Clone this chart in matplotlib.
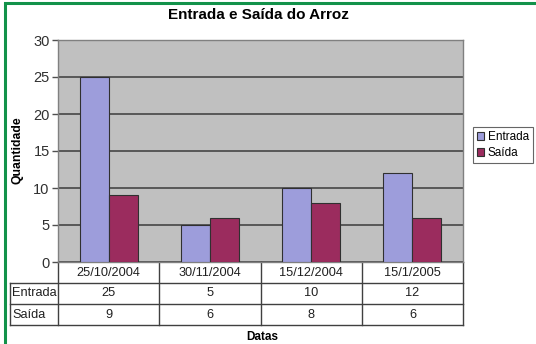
import matplotlib.pyplot as plt
from matplotlib.patches import Rectangle
import numpy as np

plt.rcParams['font.family'] = ['Liberation Sans', 'DejaVu Sans']

# Rice stock movements per date
datas = ['25/10/2004', '30/11/2004', '15/12/2004', '15/1/2005']
entrada = [25, 5, 10, 12]
saida = [9, 6, 8, 6]
series_nomes = ['Entrada', 'Saída']

cor_entrada = '#9d9ddb'
cor_saida = '#9b2c5e'
grade = '#505050'

fig = plt.figure(figsize=(5.36, 3.44), dpi=100)
fig.patch.set_facecolor('white')

# green frame around the whole chart
fig.patches.append(Rectangle((5 / 536, -0.05), 1.2, 1 - 3 / 344 + 0.05,
                             transform=fig.transFigure, fill=False,
                             edgecolor='#12924a', linewidth=2.2))

ax = fig.add_axes([58 / 536, 1 - 262 / 344, 405 / 536, 222 / 344])
ax.set_facecolor('#c0c0c0')

x = np.arange(len(datas))
w = 0.287
ax.bar(x - w / 2, entrada, w, color=cor_entrada, edgecolor='#303030',
       linewidth=0.8, label=series_nomes[0], zorder=3)
ax.bar(x + w / 2, saida, w, color=cor_saida, edgecolor='#303030',
       linewidth=0.8, label=series_nomes[1], zorder=3)

ax.set_xlim(-0.5, len(datas) - 0.5)
ax.set_ylim(0, 30)
ax.set_yticks(range(0, 31, 5))
ax.yaxis.grid(True, color=grade, linewidth=1.3, zorder=1)
ax.set_xticks([])
ax.tick_params(axis='y', direction='out', length=4, width=1, color=grade,
               labelsize=10.5, labelcolor='#303030', pad=2)
for s in ax.spines.values():
    s.set_color('#808080')
    s.set_linewidth(1)

# data table under the plot (axes coordinates)
tr = ax.transAxes
rh = 21 / 222
lab_x = -48 / 405
ncol = len(datas)
linha = dict(color='#404040', linewidth=1, transform=tr, clip_on=False)
for k in range(ncol + 1):
    ax.plot([k / ncol, k / ncol], [0, -3 * rh], **linha)
ax.plot([lab_x, lab_x], [-rh, -3 * rh], **linha)
for r in (1, 2, 3):
    ax.plot([lab_x, 1], [-r * rh, -r * rh], **linha)

txt = dict(transform=tr, fontsize=9.2, color='#202020', va='center',
           clip_on=False)
for j in range(ncol):
    cx = (j + 0.5) / ncol
    ax.text(cx, -0.5 * rh, datas[j], ha='center', **txt)
    ax.text(cx, -1.5 * rh, str(entrada[j]), ha='center', **txt)
    ax.text(cx, -2.5 * rh, str(saida[j]), ha='center', **txt)
for r, nome in enumerate(series_nomes):
    ax.text(lab_x + 0.005, -(r + 1.5) * rh, nome, ha='left', **txt)

fig.text(258 / 536, 1 - 15 / 344, 'Entrada e Saída do Arroz', ha='center',
         va='center', fontsize=11, fontweight='bold')
fig.text(18 / 536, 1 - 150 / 344, 'Quantidade', rotation=90, ha='center',
         va='center', fontsize=8.8, fontweight='bold')
fig.text(262 / 536, 1 - 337 / 344, 'Datas', ha='center', va='center',
         fontsize=8.5, fontweight='bold')

leg = fig.legend(loc='upper left', bbox_to_anchor=(473 / 536, 1 - 127 / 344),
                 fontsize=8.5, frameon=True, fancybox=False, borderpad=0.35,
                 handlelength=0.6, handleheight=0.6, handletextpad=0.3,
                 labelspacing=0.35, borderaxespad=0)
leg.get_frame().set_edgecolor('#404040')
leg.get_frame().set_linewidth(0.8)

fig.savefig('out.png', dpi=100)
